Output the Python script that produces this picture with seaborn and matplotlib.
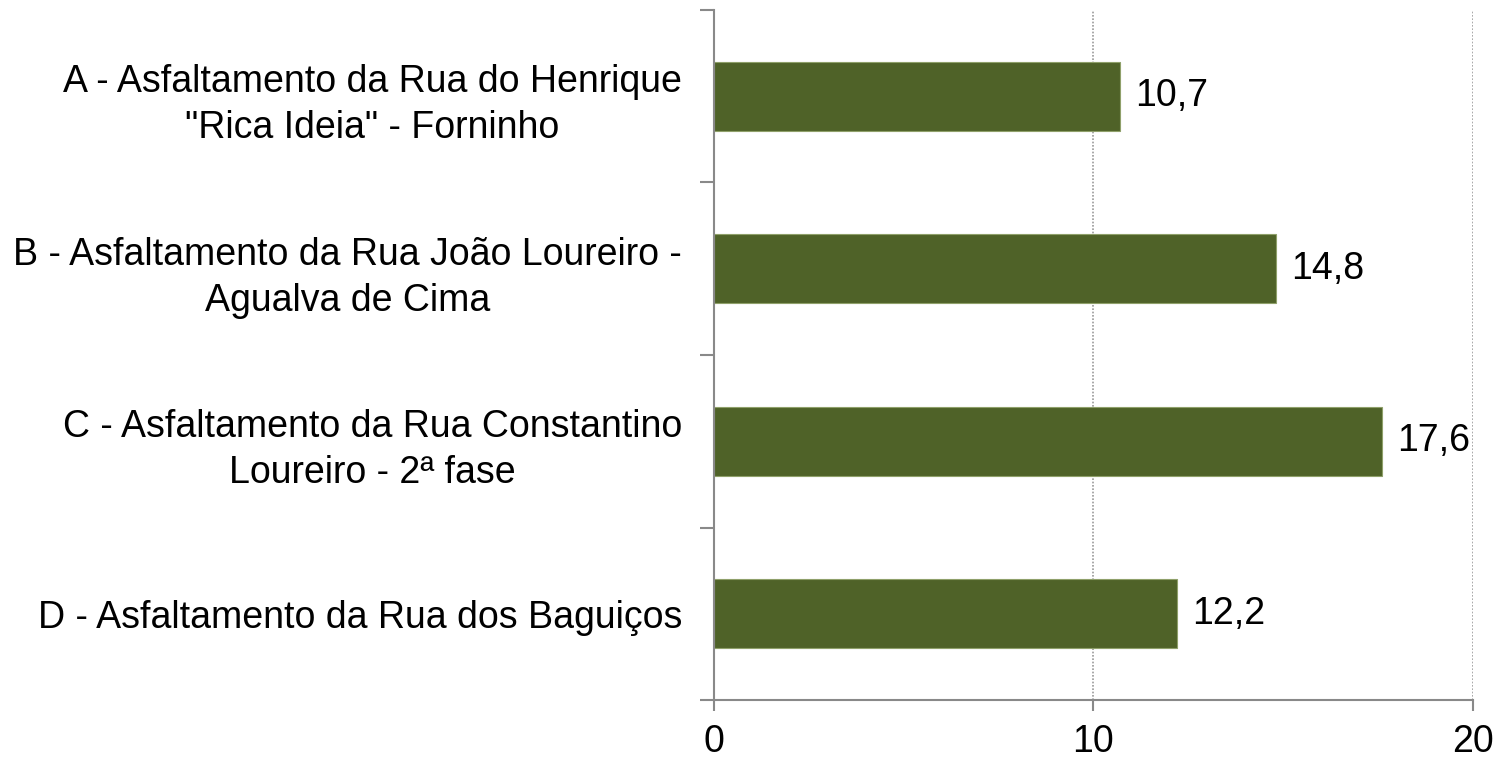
import matplotlib
matplotlib.use('Agg')
import matplotlib.pyplot as plt
import matplotlib.ticker as mticker
import pandas as pd
import seaborn as sns

projects = ['A - Asfaltamento da Rua do Henrique\n"Rica Ideia" - Forninho',
            'B - Asfaltamento da Rua João Loureiro -\nAgualva de Cima',
            'C - Asfaltamento da Rua Constantino\nLoureiro - 2ª fase',
            'D - Asfaltamento da Rua dos Baguiços']
values = [10.7, 14.8, 17.6, 12.2]
value_labels = ['10,7', '14,8', '17,6', '12,2']

sns.set_style('white')
plt.rcParams['font.family'] = ['Liberation Sans', 'DejaVu Sans']
plt.rcParams['text.color'] = 'black'
plt.rcParams['xtick.color'] = 'black'
plt.rcParams['ytick.color'] = 'black'

FS = 27

df = pd.DataFrame({'projeto': projects, 'valor': values})

fig = plt.figure(figsize=(15.03, 7.61), dpi=100)
ax = fig.add_axes([0.475, 0.080, 0.505, 0.907])

sns.barplot(data=df, x='valor', y='projeto', orient='h', color='#4F6228',
            saturation=1, width=0.4, edgecolor='#8FA06A', linewidth=0.8, ax=ax)

for i, (v, lab) in enumerate(zip(values, value_labels)):
    ax.annotate(lab, xy=(v, i), xytext=(11, 0), textcoords='offset points',
                va='center', ha='left', fontsize=FS, color='black')

ax.set_xlim(0, 20)
ax.set_ylim(3.5, -0.5)
ax.set_xticks([0, 10, 20])
ax.set_xticklabels(['0', '10', '20'])
ax.set_xlabel('')
ax.set_ylabel('')

ax.xaxis.grid(True, linestyle=(0, (1, 1)), color='#9a9a9a', linewidth=1.2)
ax.yaxis.grid(False)
ax.set_axisbelow(True)

for side in ['top', 'right']:
    ax.spines[side].set_visible(False)
for side in ['left', 'bottom']:
    ax.spines[side].set_color('#898989')
    ax.spines[side].set_linewidth(1.5)

ax.yaxis.set_minor_locator(mticker.FixedLocator([-0.5, 0.5, 1.5, 2.5, 3.5]))
ax.tick_params(axis='y', which='major', length=0, pad=23, labelsize=FS)
ax.tick_params(axis='y', which='minor', length=10, width=1.5, color='#898989', left=True)
ax.tick_params(axis='x', which='major', length=8, width=1.5, color='#898989',
               labelcolor='black', direction='out', bottom=True, pad=9, labelsize=FS)

for t in ax.get_yticklabels():
    t.set_linespacing(1.35)
    t.set_ha('right')
    t.set_multialignment('center')
    t.set_color('black')

fig.savefig('out.png', dpi=100)
